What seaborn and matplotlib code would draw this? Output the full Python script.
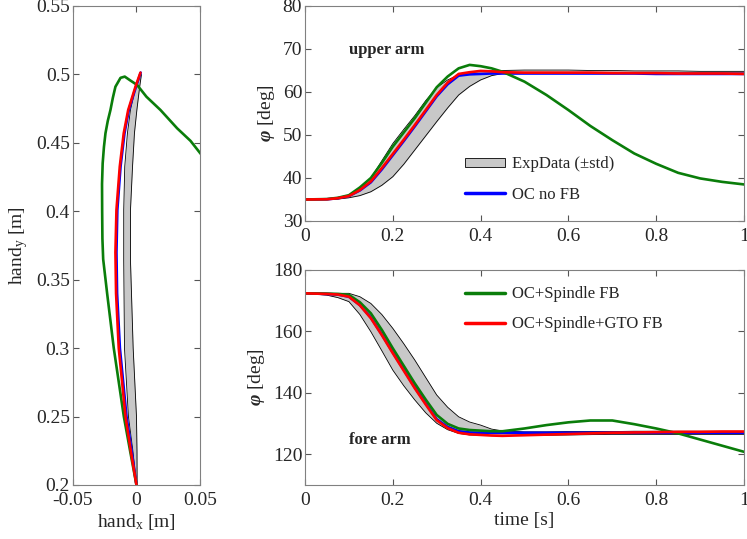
import numpy as np
import pandas as pd
import matplotlib
matplotlib.use("Agg")
import matplotlib.pyplot as plt
import seaborn as sns
from matplotlib.patches import Patch
from matplotlib.lines import Line2D

# time grid [s]
t = [0, 0.05, 0.075, 0.1, 0.125, 0.15, 0.175, 0.2, 0.225, 0.25, 0.275, 0.3, 0.325, 0.35, 0.375, 0.4, 0.425, 0.45,
     0.5, 0.55, 0.6, 0.65, 0.7, 0.75, 0.8, 0.85, 0.9, 0.95, 1.0]

# upper arm angle [deg]
up_band_hi = [35, 35.1, 35.4, 36, 37.7, 40, 44, 48, 51.3, 54.5, 58, 61, 62.8, 64, 64.5, 64.8, 64.9, 65,
              65.1, 65.1, 65.1, 65, 65, 64.9, 64.9, 64.9, 64.8, 64.8, 64.8]
up_band_lo = [35, 35, 35.1, 35.4, 35.9, 36.8, 38.3, 40.3, 43.2, 46.5, 49.8, 53.1, 56.3, 59.3, 61.3, 62.8, 63.8, 64.3,
              64.5, 64.5, 64.5, 64.5, 64.5, 64.5, 64.4, 64.4, 64.4, 64.4, 64.4]
up_blue = [35, 35.05, 35.3, 35.8, 37.1, 39, 42, 45.3, 48.6, 52, 55.5, 59, 61.8, 63.8, 64.1, 64.2, 64.3, 64.3,
           64.3, 64.3, 64.3, 64.3, 64.3, 64.3, 64.2, 64.2, 64.2, 64.2, 64.2]
up_green = [35, 35.1, 35.4, 36, 37.8, 40, 43.5, 47.3, 50.6, 53.9, 57.5, 61.1, 63.6, 65.5, 66.3, 66.0, 65.5, 64.7,
            62.4, 59.3, 55.8, 52.1, 48.8, 45.7, 43.3, 41.2, 39.9, 39.1, 38.5]
up_red = [35, 35.05, 35.3, 35.8, 37.2, 39.2, 42.3, 45.6, 48.9, 52.3, 55.8, 59.3, 62.2, 64.2, 64.6, 64.9, 64.8, 64.6,
          64.5, 64.5, 64.5, 64.5, 64.4, 64.4, 64.4, 64.3, 64.3, 64.3, 64.2]

# fore arm angle [deg]
fo_band_hi = [172.4, 172.4, 172.4, 172.4, 171.3, 169.1, 165.5, 161, 156, 150.7, 145, 139.3, 135.3, 132.2, 130.5, 129.5, 128.2, 127.6,
              127.3, 127.3, 127.4, 127.4, 127.4, 127.5, 127.5, 127.5, 127.5, 127.5, 127.5]
fo_band_lo = [172.4, 171.8, 171, 169.7, 165.5, 159.9, 153.7, 147.4, 142.3, 137.7, 133.5, 130.1, 128, 126.8, 126.3, 126.2, 126.1, 126.1,
              126.1, 126.2, 126.3, 126.4, 126.5, 126.5, 126.5, 126.5, 126.5, 126.5, 126.5]
fo_blue = [172.4, 172.2, 172, 171.3, 168.6, 164.5, 159, 153.2, 147.5, 141.8, 136.5, 131.4, 128.9, 127.5, 127.1, 127, 127, 127,
           127, 127, 127, 127, 127, 127, 127, 127, 127, 127, 127]
fo_green = [172.4, 172.3, 172.2, 171.9, 169.5, 165.9, 160.5, 154.5, 148.8, 143.1, 137.8, 132.8, 129.9, 128.4, 127.9, 127.7, 127.5, 127.5,
            128.4, 129.5, 130.4, 131, 131, 129.8, 128.4, 126.8, 124.8, 122.8, 120.8]
fo_red = [172.4, 172.2, 172, 171.3, 168.5, 164.3, 158.8, 152.9, 147.2, 141.5, 136.2, 131.1, 128.5, 127, 126.5, 126.3, 126.1, 126,
          126.2, 126.4, 126.6, 126.8, 127, 127.1, 127.2, 127.3, 127.3, 127.4, 127.4]

# hand path [m]
hb_y = [0.2, 0.225, 0.25, 0.3, 0.364, 0.401, 0.4326, 0.457, 0.474, 0.491, 0.5]
hb_left = [0, -0.0028, -0.0063, -0.0094, -0.01, -0.01, -0.0092, -0.0071, -0.0047, -0.0005, 0.0031]
hb_right = [0.0005, 0.0004, 0, -0.0026, -0.0047, -0.0047, -0.0031, -0.0016, 0.0003, 0.0025, 0.0039]
hg_x = [0, -0.0047, -0.0099, -0.0178, -0.023, -0.0261, -0.0267, -0.0269, -0.0270, -0.0265, -0.0255, -0.0243,
        -0.0225, -0.0204, -0.0185, -0.0165, -0.0125, -0.0092, -0.0047, 0.0005, 0.0078, 0.0188,
        0.0319, 0.0423, 0.0504]
hg_y = [0.2, 0.2234, 0.25, 0.3, 0.34, 0.365, 0.38, 0.40, 0.42, 0.435, 0.447, 0.457,
        0.466, 0.474, 0.483, 0.491, 0.4975, 0.4984, 0.4955, 0.4923, 0.4837, 0.474,
        0.4606, 0.4515, 0.4419]
hr_x = [0, -0.0042, -0.0086, -0.0139, -0.0160, -0.0165, -0.0157, -0.0131, -0.01, -0.0065, -0.0008, 0.0031]
hr_y = [0.2, 0.2234, 0.25, 0.3, 0.34, 0.37, 0.401, 0.4326, 0.457, 0.474, 0.491, 0.5013]
hbl_x = [0, -0.0036, -0.0078, -0.0130, -0.0152, -0.0157, -0.0150, -0.0125, -0.0094, -0.0060, -0.0004, 0.0033]
hbl_y = [0.2, 0.2234, 0.25, 0.3, 0.34, 0.37, 0.401, 0.4326, 0.457, 0.474, 0.491, 0.5013]

labels = ["ExpData (\u00b1std)", "OC no FB", "OC+Spindle FB", "OC+Spindle+GTO FB"]

sns.set_theme(style="ticks")
plt.rcParams["font.family"] = ["Liberation Serif", "DejaVu Serif"]
plt.rcParams["mathtext.fontset"] = "custom"
plt.rcParams["mathtext.rm"] = "Liberation Serif"
plt.rcParams["mathtext.it"] = "Liberation Serif:italic"
plt.rcParams["mathtext.bf"] = "Liberation Serif:bold:italic"

GREEN = "#0a7d0a"
BAND = "#c8c8c8"
LW = 1.9

fig = plt.figure(figsize=(7.47, 5.39), dpi=100)
ax_h = fig.add_axes([0.0973, 0.1002, 0.1708, 0.8887])
ax_u = fig.add_axes([0.4083, 0.590, 0.5877, 0.3989])
ax_f = fig.add_axes([0.4083, 0.1002, 0.5877, 0.3989])

# hand path
ax_h.fill_betweenx(hb_y, hb_left, hb_right, color=BAND, lw=0)
ax_h.plot(hb_left, hb_y, color="black", lw=0.6)
ax_h.plot(hb_right, hb_y, color="black", lw=0.6)
sns.lineplot(x=hbl_x, y=hbl_y, ax=ax_h, color="blue", lw=LW, sort=False, estimator=None)
sns.lineplot(x=hg_x, y=hg_y, ax=ax_h, color=GREEN, lw=LW, sort=False, estimator=None)
sns.lineplot(x=hr_x, y=hr_y, ax=ax_h, color="red", lw=LW, sort=False, estimator=None)
ax_h.set_xlim(-0.05, 0.05)
ax_h.set_ylim(0.2, 0.55)
ax_h.set_xticks([-0.05, 0, 0.05])
ax_h.set_xticklabels(["-0.05", "0", "0.05"])
ax_h.set_yticks([0.2, 0.25, 0.3, 0.35, 0.4, 0.45, 0.5, 0.55])
ax_h.set_yticklabels(["0.2", "0.25", "0.3", "0.35", "0.4", "0.45", "0.5", "0.55"])
ax_h.set_xlabel(r"hand$_\mathrm{x}$ [m]", fontsize=14, labelpad=2)
ax_h.set_ylabel(r"hand$_\mathrm{y}$ [m]", fontsize=14, labelpad=4)

# joint angles
for ax, lo, hi, blue, green, red in [
        (ax_u, up_band_lo, up_band_hi, up_blue, up_green, up_red),
        (ax_f, fo_band_lo, fo_band_hi, fo_blue, fo_green, fo_red)]:
    ax.fill_between(t, lo, hi, color=BAND, lw=0)
    ax.plot(t, lo, color="black", lw=0.6)
    ax.plot(t, hi, color="black", lw=0.6)
    sns.lineplot(x=t, y=blue, ax=ax, color="blue", lw=LW)
    sns.lineplot(x=t, y=green, ax=ax, color=GREEN, lw=LW)
    sns.lineplot(x=t, y=red, ax=ax, color="red", lw=LW)
    ax.set_xlim(0, 1)
    ax.set_xticks([0, 0.2, 0.4, 0.6, 0.8, 1])
    ax.set_xticklabels(["0", "0.2", "0.4", "0.6", "0.8", "1"])
    ax.set_ylabel(r"$\mathbf{\varphi}$ [deg]", fontsize=14, labelpad=4)

ax_u.set_ylim(30, 80)
ax_u.set_yticks([30, 40, 50, 60, 70, 80])
ax_f.set_ylim(110, 180)
ax_f.set_yticks([120, 140, 160, 180])
ax_f.set_xlabel("time [s]", fontsize=14, labelpad=2)

ax_u.text(0.1, 69.8, "upper arm", fontsize=12, fontweight="bold", va="center")
ax_f.text(0.1, 124.6, "fore arm", fontsize=12, fontweight="bold", va="center")

h_exp = Patch(facecolor=BAND, edgecolor="black", lw=0.6)
h_blue = Line2D([], [], color="blue", lw=LW + 0.6)
h_green = Line2D([], [], color=GREEN, lw=LW + 0.6)
h_red = Line2D([], [], color="red", lw=LW + 0.6)
leg_kw = dict(frameon=False, fontsize=12, handlelength=2.4, handleheight=0.5,
              handletextpad=0.45, labelspacing=0.85, borderaxespad=0)
ax_u.legend([h_exp, h_blue], labels[:2], loc="upper left",
            bbox_to_anchor=(0.349, 0.331), **leg_kw)
ax_f.legend([h_green, h_red], labels[2:], loc="upper left",
            bbox_to_anchor=(0.349, 0.955), **leg_kw)

for ax in (ax_h, ax_u, ax_f):
    ax.tick_params(direction="in", top=True, right=True, length=4, width=0.8,
                   color="#555555", labelsize=14, pad=2)
    ax.tick_params(axis="x", pad=5)
    for s in ax.spines.values():
        s.set_visible(True)
        s.set_color("#808080")
        s.set_linewidth(0.8)

fig.savefig("out.png", dpi=100)
